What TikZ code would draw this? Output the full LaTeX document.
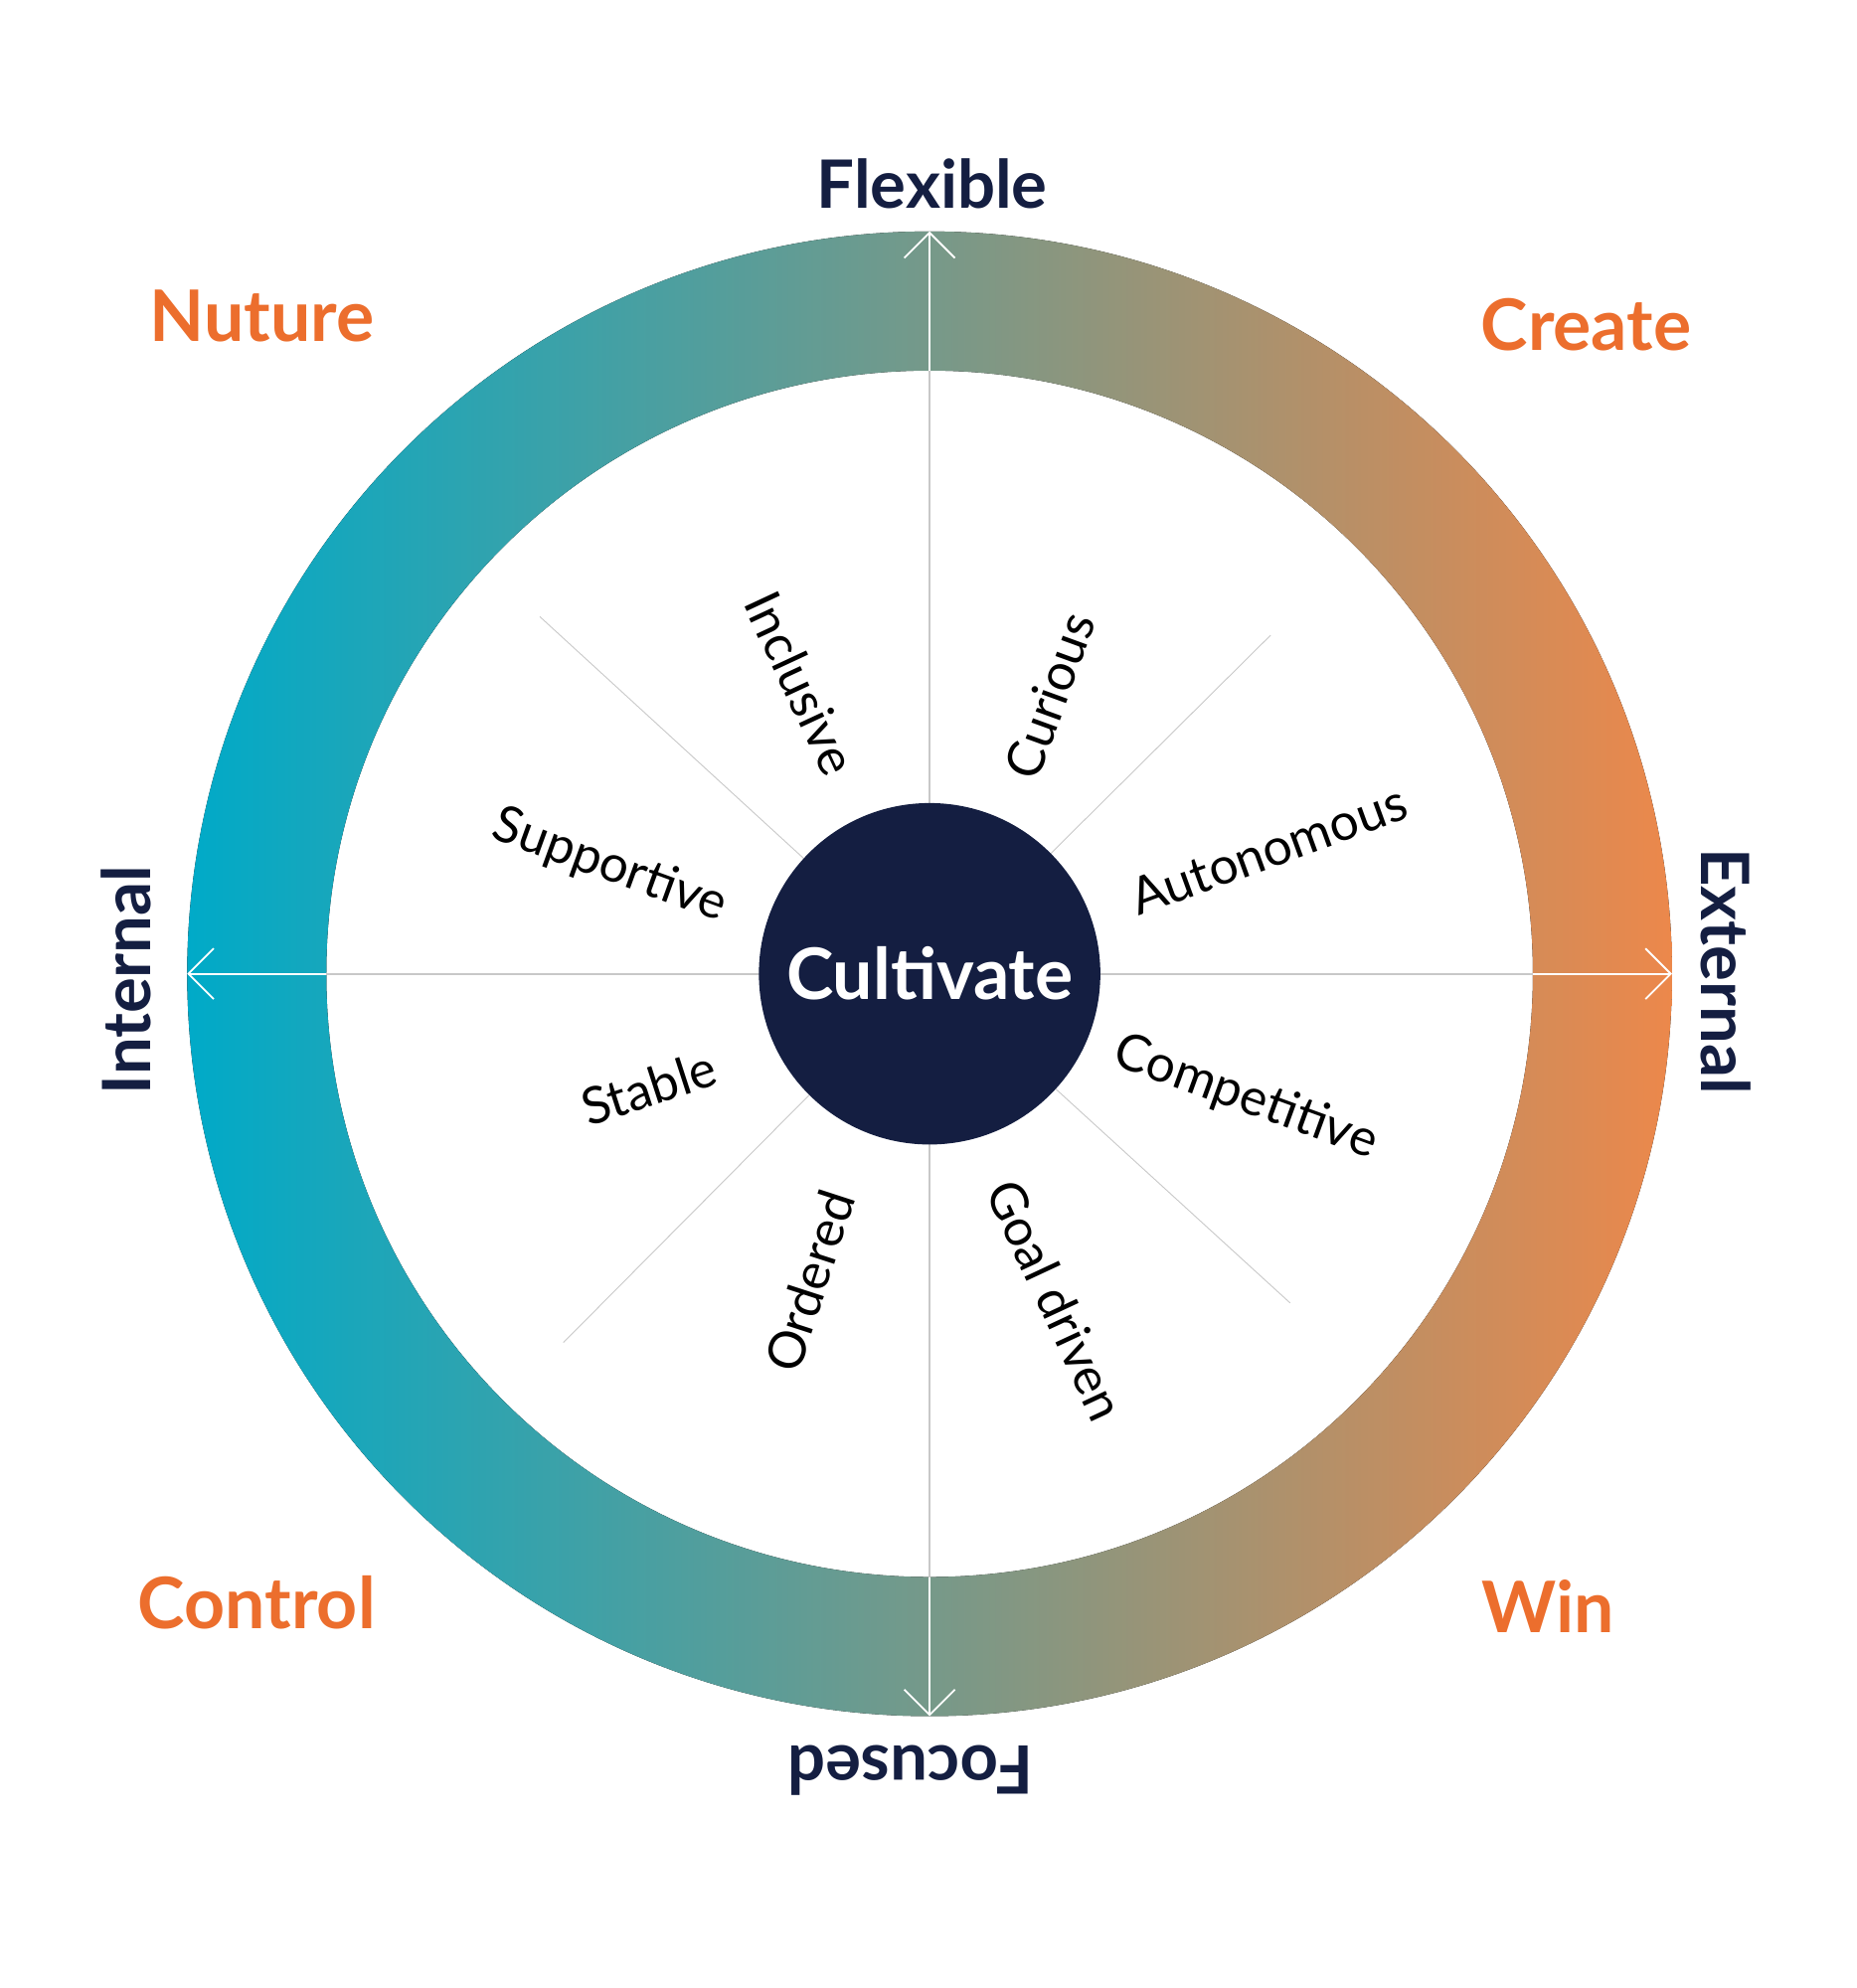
\documentclass[tikz,border=0pt]{standalone}
\usepackage{fontspec}
\setmainfont{Lato}
\usetikzlibrary{arrows.meta,calc}
\definecolor{navy}{RGB}{20,30,65}
\definecolor{teal}{RGB}{0,170,200}
\definecolor{tangerine}{RGB}{236,136,75}
\definecolor{orangelbl}{RGB}{236,110,45}
\definecolor{axisgray}{RGB}{200,200,200}
\tikzset{
    word/.style={font=\fontsize{11.5}{14}\selectfont, text=black},
    corner/.style={font=\bfseries\fontsize{16}{19}\selectfont, text=orangelbl},
    pole/.style={font=\bfseries\fontsize{15}{18}\selectfont, text=navy},
}
\begin{document}
\begin{tikzpicture}
        \useasboundingbox (0,0) rectangle (14.68,-15.72);
        \coordinate (c) at (7.35,-7.70);
        % ring
        \fill[left color=teal, right color=tangerine, even odd rule]
            (c) circle (5.87) (c) circle (4.77);
        % axes
        \foreach \a in {0, 90, 180, 270} {
            \draw[axisgray, thin] (c) -- ++(\a:4.77);
            \draw[white, thin, -{Straight Barb[length=2mm, width=4mm]}] ($(c)+(\a:4.77)$) -- ++(\a:1.10);
        }
        \foreach \a/\r in {137.5/4.18, 44.8/3.80, -42.4/3.86, 225.2/4.11} {
            \draw[axisgray, very thin] ($(c)+(\a:1.35)$) -- ($(c)+(\a:\r)$);
        }
        \node[circle, fill=navy, minimum size=2.70cm, inner sep=0pt,
            text=white, font=\bfseries\fontsize{16}{19}\selectfont] (core) at (c) {Cultivate};
        % values
        \node[word, rotate=-65] (inclusive) at (6.33,-5.40) {Inclusive};
        \node[word, rotate=70] (curious) at (8.30,-5.50) {Curious};
        \node[word, rotate=20] (autonomous) at (10.03,-6.72) {Autonomous};
        \node[word, rotate=-20] (supportive) at (4.82,-6.85) {Supportive};
        \node[word, rotate=18] (stable) at (5.13,-8.60) {Stable};
        \node[word, rotate=-20] (competitive) at (9.85,-8.68) {Competitive};
        \node[word, rotate=72] (ordered) at (6.40,-10.13) {Ordered};
        \node[word, rotate=-65] (goaldriven) at (8.35,-10.28) {Goal driven};
        % poles
        \node[pole] (flexible) at (7.37,-1.45) {Flexible};
        \node[pole, rotate=90] (internal) at (1.00,-7.75) {Internal};
        \node[pole, rotate=-90] (external) at (13.65,-7.68) {External};
        \node[pole, rotate=180] (focused) at (7.20,-14.00) {Focused};
        % corners
        \node[corner] (nuture) at (2.07,-2.50) {Nuture};
        \node[corner] (create) at (12.54,-2.57) {Create};
        \node[corner] (control) at (2.03,-12.67) {Control};
        \node[corner] (win) at (12.24,-12.70) {Win};
\end{tikzpicture}
\end{document}
